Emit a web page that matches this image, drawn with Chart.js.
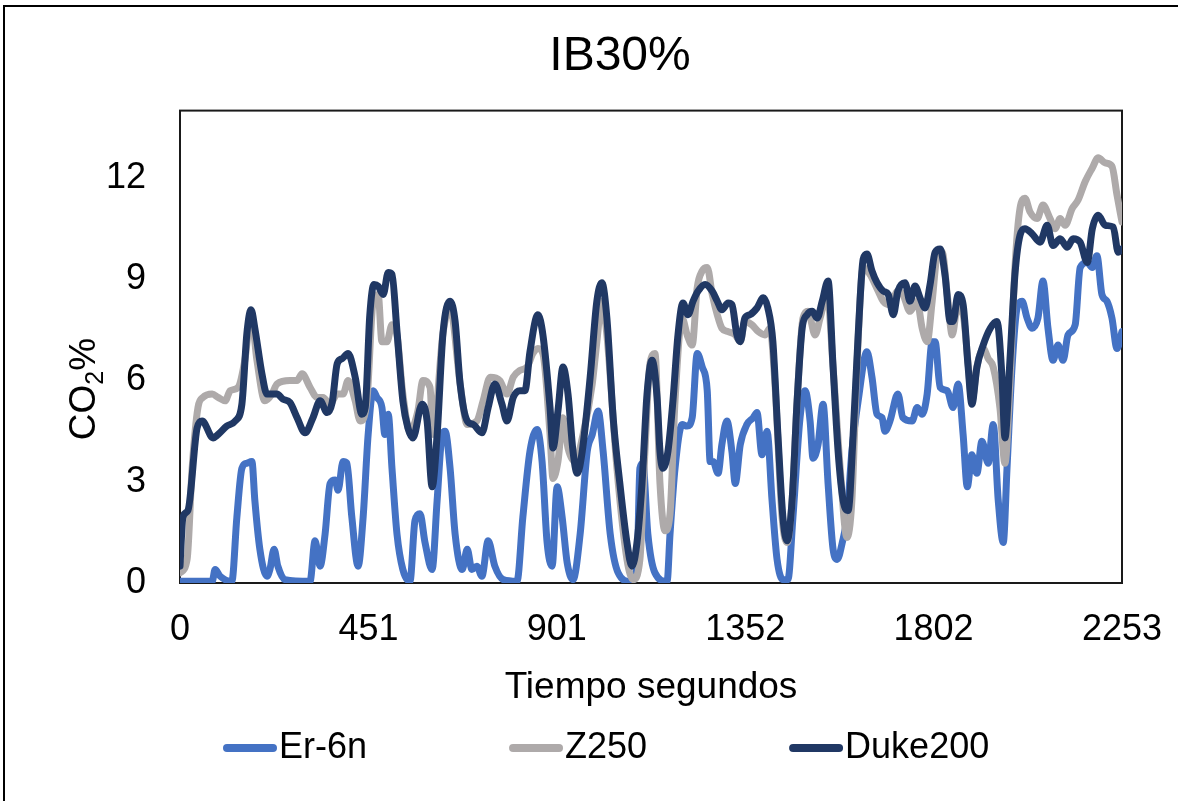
<!DOCTYPE html>
<html>
<head>
<meta charset="utf-8">
<script src="https://cdn.jsdelivr.net/npm/chart.js@4.4.1/dist/chart.umd.min.js"></script>
<style>
  html, body { margin: 0; padding: 0; overflow: hidden; background: #fff; }
  canvas { display: block; }
</style>
</head>
<body>
<canvas id="chart" width="1240" height="820"></canvas>
<script>
const xTicks = [0, 451, 901, 1352, 1802, 2253];
const yTicks = [0, 3, 6, 9, 12];
const seriesNames = ['Er-6n', 'Z250', 'Duke200'];
const seriesColors = ['#4472C4', '#AEAAAA', '#203864'];

// Er-6n, time (s) and CO2 (%)
const er6nTime = [
    0, 77, 84, 96, 124, 136, 148, 160, 172, 179,
    191, 208, 215, 225, 234, 251, 311, 323, 335, 347,
    359, 371, 378, 390, 399, 411, 426, 438, 450, 462,
    471, 483, 490, 498, 507, 519, 533, 550, 562, 574,
    586, 603, 615, 627, 634, 646, 658, 675, 687, 698,
    710, 722, 737, 753, 773, 806, 820, 837, 854, 866,
    878, 890, 902, 914, 926, 940, 957, 974, 986, 1000,
    1012, 1029, 1048, 1076, 1093, 1100, 1107, 1119, 1136, 1165,
    1172, 1184, 1201, 1213, 1225, 1237, 1249, 1261, 1268, 1275,
    1287, 1296, 1308, 1320, 1328, 1340, 1356, 1371, 1380, 1392,
    1404, 1416, 1428, 1442, 1454, 1466, 1483, 1495, 1507, 1514,
    1526, 1538, 1550, 1562, 1572, 1584, 1595, 1607, 1622, 1643,
    1655, 1667, 1679, 1686, 1698, 1717, 1729, 1751, 1763, 1775,
    1787, 1799, 1806, 1818, 1835, 1849, 1861, 1873, 1883, 1894,
    1906, 1918, 1933, 1945, 1957, 1969, 1978, 1990, 2002, 2014,
    2026, 2038, 2052, 2064, 2076, 2088, 2100, 2112, 2124, 2141,
    2153, 2170, 2182, 2193, 2205, 2217, 2229, 2241, 2253,
];
const er6nCo2 = [
    0.05, 0.05, 0.4, 0.2, 0.05, 1.95, 3.4, 3.55, 3.6, 2.45,
    1.0, 0.2, 0.4, 1.0, 0.5, 0.1, 0.05, 1.25, 0.5, 1.45,
    2.95, 3.05, 2.75, 3.6, 3.55, 1.95, 0.5, 1.95, 4.4, 5.7,
    5.5, 5.2, 4.4, 5.0, 3.4, 1.45, 0.4, 0.05, 1.85, 2.05,
    1.2, 0.4, 2.45, 4.4, 4.5, 3.4, 1.45, 0.4, 1.0, 0.4,
    0.5, 0.2, 1.25, 0.5, 0.1, 0.05, 1.95, 3.9, 4.55, 3.6,
    1.2, 0.5, 2.85, 1.95, 0.6, 0.1, 1.45, 3.9, 4.4, 5.1,
    3.9, 1.45, 0.3, 0.05, 0.5, 3.4, 3.55, 1.45, 0.3, 0.05,
    1.45, 3.4, 4.7, 4.65, 4.9, 6.8, 6.4, 5.7, 3.6, 3.6,
    3.25, 4.1, 4.8, 3.9, 2.95, 4.1, 4.7, 4.9, 5.05, 3.8,
    4.5, 2.45, 0.7, 0.1, 0.1, 1.95, 4.9, 5.7, 4.8, 3.7,
    4.1, 5.3, 2.95, 1.0, 0.7, 1.2, 1.95, 3.9, 5.4, 6.85,
    6.1, 5.0, 4.9, 4.5, 4.8, 5.6, 4.9, 4.8, 5.2, 5.0,
    5.6, 7.15, 7.15, 5.8, 5.7, 5.2, 5.9, 4.4, 2.85, 3.8,
    3.25, 4.2, 3.55, 4.7, 2.45, 1.2, 3.4, 6.4, 8.15, 8.35,
    7.85, 7.55, 7.85, 8.95, 7.55, 6.6, 7.05, 6.6, 7.35, 7.65,
    9.35, 9.5, 9.35, 9.7, 8.55, 8.35, 7.85, 6.95, 7.45,
];

// Z250
const z250Time = [
    0, 17, 29, 43, 55, 77, 91, 108, 120, 139,
    155, 170, 184, 203, 220, 232, 263, 280, 292, 311,
    328, 342, 359, 376, 390, 402, 419, 431, 447, 462,
    474, 483, 495, 507, 519, 533, 550, 569, 581, 598,
    605, 629, 646, 670, 687, 710, 725, 742, 765, 782,
    797, 813, 830, 844, 856, 868, 885, 892, 904, 916,
    928, 945, 964, 986, 997, 1009, 1021, 1045, 1069, 1084,
    1100, 1112, 1124, 1136, 1148, 1160, 1172, 1184, 1201, 1213,
    1225, 1237, 1249, 1261, 1273, 1285, 1296, 1311, 1328, 1340,
    1351, 1368, 1383, 1399, 1411, 1423, 1440, 1452, 1464, 1476,
    1490, 1502, 1519, 1531, 1548, 1562, 1579, 1595, 1607, 1619,
    1634, 1650, 1670, 1682, 1698, 1717, 1729, 1746, 1763, 1775,
    1787, 1799, 1811, 1823, 1835, 1847, 1859, 1873, 1885, 1894,
    1906, 1921, 1933, 1945, 1961, 1973, 1985, 1997, 2009, 2021,
    2033, 2050, 2064, 2081, 2093, 2105, 2117, 2134, 2148, 2165,
    2182, 2196, 2213, 2229, 2241, 2253,
];
const z250Co2 = [
    0.3, 0.7, 3.4, 5.2, 5.5, 5.6, 5.5, 5.4, 5.7, 5.8,
    6.6, 7.95, 6.6, 5.4, 5.6, 5.9, 6.0, 6.0, 6.2, 5.8,
    5.5, 5.5, 5.3, 5.6, 5.6, 6.0, 5.4, 4.8, 5.4, 8.35,
    8.55, 7.15, 7.15, 7.65, 7.35, 5.6, 4.5, 5.1, 6.0, 5.8,
    4.4, 7.4, 8.15, 5.9, 4.7, 4.8, 5.4, 6.1, 6.0, 5.6,
    6.1, 6.3, 6.4, 6.8, 6.95, 6.8, 4.4, 3.1, 3.6, 4.9,
    4.0, 3.6, 4.4, 5.9, 7.15, 8.35, 7.35, 3.4, 0.7, 0.1,
    0.7, 3.9, 6.5, 6.8, 2.95, 1.55, 2.05, 5.4, 7.85, 7.35,
    7.05, 8.75, 9.25, 9.35, 8.55, 7.95, 7.55, 7.45, 7.35, 7.15,
    7.75, 7.65, 7.45, 7.35, 7.55, 5.9, 1.95, 1.2, 2.45, 5.4,
    7.85, 8.05, 7.35, 7.85, 8.55, 6.4, 3.4, 1.35, 2.45, 6.4,
    9.35, 9.15, 8.65, 8.35, 8.25, 8.65, 8.55, 8.05, 8.35, 7.55,
    7.15, 8.35, 9.7, 9.8, 8.55, 7.35, 8.15, 7.95, 6.5, 5.4,
    6.4, 6.95, 6.65, 6.4, 5.2, 3.55, 5.9, 9.35, 11.1, 11.4,
    11.0, 10.8, 11.2, 10.8, 10.5, 10.8, 10.6, 11.1, 11.35, 11.9,
    12.3, 12.6, 12.45, 12.35, 11.5, 10.7,
];

// Duke200
const dukeTime = [
    0, 7, 19, 41, 53, 79, 91, 112, 132, 148,
    160, 170, 179, 196, 208, 232, 246, 263, 280, 299,
    318, 335, 352, 364, 376, 388, 402, 419, 435, 443,
    454, 464, 474, 486, 498, 507, 519, 533, 545, 557,
    579, 591, 603, 615, 629, 646, 658, 670, 687,
    701, 722, 737, 753, 770, 782, 797, 813, 825, 837,
    856, 868, 885, 892, 904, 916, 928, 940, 950, 962,
    981, 997, 1009, 1021, 1036, 1052, 1069, 1081, 1093, 1105,
    1117, 1129, 1141, 1148, 1155, 1167, 1179, 1191, 1203, 1215,
    1227, 1239, 1256, 1273, 1285, 1296, 1311, 1320, 1332, 1340,
    1351, 1363, 1380, 1395, 1406, 1418, 1430, 1442, 1452, 1464,
    1476, 1488, 1500, 1512, 1524, 1536, 1550, 1562, 1574, 1586,
    1598, 1610, 1622, 1634, 1643, 1655, 1667, 1682, 1694, 1706,
    1717, 1734, 1746, 1758, 1770, 1782, 1794, 1806, 1818, 1830,
    1842, 1849, 1861, 1873, 1885, 1894, 1906, 1921, 1938, 1954,
    1966, 1973, 1985, 1997, 2009, 2021, 2038, 2057, 2074, 2088,
    2105, 2122, 2136, 2153, 2170, 2182, 2196, 2213, 2232, 2244,
    2253,
];
const dukeCo2 = [
    0.5, 1.95, 2.15, 4.6, 4.8, 4.3, 4.4, 4.65, 4.8, 5.3,
    7.4, 8.1, 7.55, 6.2, 5.6, 5.6, 5.45, 5.35, 4.9, 4.45,
    4.9, 5.4, 5.05, 5.35, 6.5, 6.65, 6.8, 6.1, 5.0, 5.2,
    7.95, 8.85, 8.8, 8.55, 9.2, 9.15, 7.45, 5.4, 4.6, 4.3,
    5.3, 4.8, 2.85, 4.4, 7.4, 8.35, 7.75, 5.9, 4.8,
    4.7, 4.45, 5.2, 5.9, 5.3, 4.8, 5.5, 5.7, 5.7, 6.85,
    7.95, 7.35, 5.2, 4.0, 5.1, 6.4, 5.6, 3.9, 3.25, 3.9,
    6.1, 8.35, 8.9, 7.85, 4.9, 2.95, 1.2, 0.5, 1.2, 2.95,
    5.6, 6.6, 5.5, 3.9, 3.4, 3.9, 5.4, 7.35, 8.3, 7.95,
    8.35, 8.65, 8.85, 8.65, 8.35, 8.1, 8.3, 8.25, 7.35, 7.15,
    7.85, 7.95, 8.15, 8.45, 8.15, 7.15, 4.4, 1.95, 1.25, 2.45,
    5.4, 7.55, 7.95, 8.05, 7.85, 8.35, 8.95, 6.4, 3.9, 2.45,
    2.15, 4.4, 7.35, 9.6, 9.75, 9.25, 8.9, 8.65, 8.55, 7.95,
    8.65, 8.9, 8.35, 8.8, 8.45, 8.15, 8.85, 9.8, 9.9, 9.1,
    7.75, 7.75, 8.55, 8.25, 6.4, 5.3, 6.4, 7.05, 7.55, 7.75,
    6.1, 4.3, 6.6, 9.15, 10.3, 10.5, 10.35, 10.1, 10.6, 10.0,
    10.2, 9.95, 10.2, 10.1, 9.5, 10.5, 10.9, 10.6, 10.55, 9.8,
    9.9,
];

const FONT = "'Liberation Sans', Arial, sans-serif";
Chart.defaults.font.family = FONT;
Chart.defaults.color = '#000';

function toPoints(times, values) {
    return times.map((t, i) => ({ x: t, y: values[i] }));
}

// outer frame, plot border, legend and the y title with a real subscript
const decorations = {
    id: 'decorations',
    beforeDraw(chart) {
        const { ctx } = chart;
        ctx.save();
        ctx.fillStyle = '#fff';
        ctx.fillRect(0, 0, chart.width, chart.height);
        ctx.strokeStyle = '#000';
        ctx.lineWidth = 2;
        ctx.strokeRect(4, 6, chart.width - 8, chart.height - 10);
        ctx.restore();
    },
    beforeDatasetsDraw(chart) {
        const { ctx, chartArea: a } = chart;
        ctx.save();
        ctx.strokeStyle = '#1a1a1a';
        ctx.lineWidth = 2;
        ctx.strokeRect(a.left, a.top, a.right - a.left, a.bottom - a.top);
        ctx.restore();
    },
    afterDraw(chart) {
        const { ctx } = chart;
        ctx.save();

        // legend
        ctx.font = `36px ${FONT}`;
        ctx.textBaseline = 'middle';
        ctx.textAlign = 'left';
        let x = 223;
        const y = 748;
        seriesNames.forEach((name, i) => {
            ctx.strokeStyle = seriesColors[i];
            ctx.lineWidth = 8;
            ctx.lineCap = 'round';
            ctx.beginPath();
            ctx.moveTo(x + 4, y);
            ctx.lineTo(x + 50, y);
            ctx.stroke();
            ctx.fillStyle = '#000';
            ctx.fillText(name, x + 56, y);
            x += 56 + ctx.measureText(name).width + 142;
        });

        // y axis title: CO2%
        ctx.translate(82, 389);
        ctx.rotate(-Math.PI / 2);
        const big = `37px ${FONT}`;
        const small = `25px ${FONT}`;
        ctx.font = big;
        const wCO = ctx.measureText('CO').width;
        const wPct = ctx.measureText('%').width;
        ctx.font = small;
        const w2 = ctx.measureText('2').width;
        let tx = -(wCO + w2 + wPct) / 2;
        ctx.textBaseline = 'alphabetic';
        ctx.font = big;
        ctx.fillText('CO', tx, 13);
        tx += wCO;
        ctx.font = small;
        ctx.fillText('2', tx, 21);
        tx += w2;
        ctx.font = big;
        ctx.fillText('%', tx, 13);
        ctx.restore();
    },
};

const lineOf = (i, times, values, order) => ({
    label: seriesNames[i],
    data: toPoints(times, values),
    borderColor: seriesColors[i],
    backgroundColor: seriesColors[i],
    borderWidth: 7,
    pointRadius: 0,
    fill: false,
    order: order,
});

new Chart(document.getElementById('chart'), {
    type: 'line',
    data: {
        datasets: [
            lineOf(0, er6nTime, er6nCo2, 3),
            lineOf(1, z250Time, z250Co2, 2),
            lineOf(2, dukeTime, dukeCo2, 1),
        ],
    },
    options: {
        responsive: false,
        animation: false,
        devicePixelRatio: 1,
        layout: { padding: { left: 0, right: 0, top: 0, bottom: 107 } },
        elements: {
            line: {
                cubicInterpolationMode: 'monotone',
                borderJoinStyle: 'round',
                borderCapStyle: 'round',
            },
        },
        plugins: {
            legend: { display: false },
            tooltip: { enabled: false },
            title: {
                display: true,
                text: 'IB30%',
                color: '#000',
                font: { size: 48, weight: 'normal' },
                padding: { top: 28, bottom: 25 },
            },
        },
        scales: {
            x: {
                type: 'linear',
                min: 0,
                max: 2253,
                afterBuildTicks: (s) => { s.ticks = xTicks.map((v) => ({ value: v })); },
                afterFit: (s) => { s.height = 130; },
                grid: { display: false, drawTicks: false },
                border: { display: false },
                ticks: {
                    font: { size: 36 },
                    padding: 25,
                    autoSkip: false,
                    maxRotation: 0,
                    callback: (v) => String(v),
                },
                title: {
                    display: true,
                    text: 'Tiempo segundos',
                    font: { size: 37 },
                    padding: { top: 0, bottom: 3 },
                },
            },
            y: {
                min: 0,
                max: 14,
                afterBuildTicks: (s) => { s.ticks = yTicks.map((v) => ({ value: v })); },
                afterFit: (s) => { s.width = 180; },
                grid: { display: false, drawTicks: false },
                border: { display: false },
                ticks: {
                    font: { size: 36 },
                    padding: 34,
                    callback: (v) => String(v),
                },
            },
            // empty right-hand margin so the title centres on the whole frame
            yRight: {
                position: 'right',
                min: 0,
                max: 14,
                afterFit: (s) => { s.width = 118; },
                grid: { display: false, drawTicks: false },
                border: { display: false },
                ticks: { display: false },
            },
        },
    },
    plugins: [decorations],
});
</script>
</body>
</html>
